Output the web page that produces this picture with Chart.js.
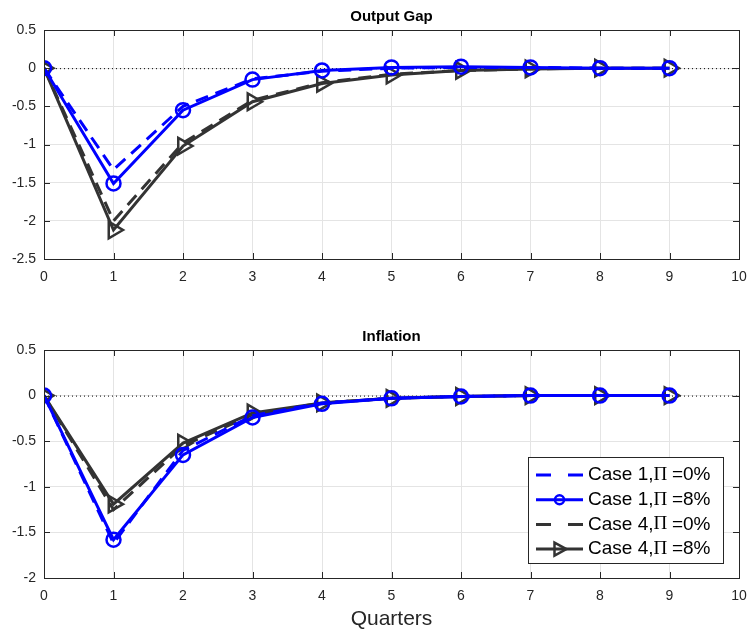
<!DOCTYPE html>
<html>
<head>
<meta charset="utf-8">
<script src="https://cdn.jsdelivr.net/npm/chart.js@4.4.0/dist/chart.umd.min.js"></script>
<style>
  html, body { margin: 0; padding: 0; background: #fff; overflow: hidden; }
  #wrap { position: relative; width: 748px; height: 636px; overflow: hidden; }
  .box { position: absolute; left: 0; width: 751px; }
</style>
</head>
<body>
<div id="wrap">
  <div class="box" style="top:0;height:300px"><canvas id="gapChart"></canvas></div>
  <div class="box" style="top:318px;height:318px"><canvas id="infChart"></canvas></div>
</div>
<script>
// Data
const quarters = [0, 1, 2, 3, 4, 5, 6, 7, 8, 9];
const xTicks = [0, 1, 2, 3, 4, 5, 6, 7, 8, 9, 10];

const gapCase1Zero  = [0, -1.33, -0.50, -0.14, -0.04, 0.00, 0.01, 0.01, 0.00, 0.00];
const gapCase1Eight = [0, -1.51, -0.55, -0.15, -0.03, 0.01, 0.02, 0.01, 0.00, 0.00];
const gapCase4Zero  = [0, -2.00, -0.98, -0.42, -0.19, -0.08, -0.03, -0.01, 0.00, 0.00];
const gapCase4Eight = [0, -2.12, -1.02, -0.44, -0.20, -0.09, -0.03, -0.01, 0.00, 0.00];

const infCase1Zero  = [0, -1.62, -0.60, -0.22, -0.08, -0.03, -0.01, 0.00, 0.00, 0.00];
const infCase1Eight = [0, -1.58, -0.65, -0.24, -0.09, -0.03, -0.01, 0.00, 0.00, 0.00];
const infCase4Zero  = [0, -1.25, -0.55, -0.21, -0.08, -0.03, -0.01, 0.00, 0.00, 0.00];
const infCase4Eight = [0, -1.19, -0.52, -0.19, -0.08, -0.03, -0.01, 0.00, 0.00, 0.00];

const seriesLabels = ['Case 1,', 'Case 1,', 'Case 4,', 'Case 4,'];
const seriesRates = ['=0%', '=8%', '=0%', '=8%'];

const BLUE = '#0000ff';
const DARK = '#333333';
const FONT = "'Liberation Sans', Arial, sans-serif";

function toPoints(values) {
    return values.map((v, i) => ({ x: quarters[i], y: v }));
}

function makeDatasets(c1z, c1e, c4z, c4e) {
    return [
        { data: toPoints(c1z), borderColor: BLUE, borderDash: [13, 8], borderWidth: 3, pointRadius: 0 },
        { data: toPoints(c1e), borderColor: BLUE, borderWidth: 3, pointStyle: 'circle', pointRadius: 7,
          pointBorderWidth: 2.5, pointBackgroundColor: 'rgba(0,0,0,0)', pointBorderColor: BLUE },
        { data: toPoints(c4z), borderColor: DARK, borderDash: [13, 8], borderWidth: 3, pointRadius: 0 },
        { data: toPoints(c4e), borderColor: DARK, borderWidth: 3, pointStyle: 'triangle', pointRotation: 90,
          pointRadius: 9.5, pointBorderWidth: 2.5, pointBackgroundColor: 'rgba(0,0,0,0)', pointBorderColor: DARK }
    ];
}

// Box, inward ticks, dotted zero line and title
const frame = {
    id: 'frame',
    beforeDatasetsDraw(chart) {
        const { ctx, chartArea: a, scales } = chart;
        const y0 = scales.y.getPixelForValue(0);
        ctx.save();
        ctx.strokeStyle = '#000';
        ctx.lineWidth = 1;
        ctx.setLineDash([1, 3]);
        ctx.beginPath();
        ctx.moveTo(a.left, y0 + 0.5);
        ctx.lineTo(a.right, y0 + 0.5);
        ctx.stroke();
        ctx.restore();
    },
    afterDraw(chart, args, opts) {
        const { ctx, chartArea: a, scales } = chart;
        ctx.save();
        ctx.strokeStyle = '#262626';
        ctx.lineWidth = 1;
        ctx.beginPath();
        scales.x.ticks.forEach(t => {
            const px = Math.round(scales.x.getPixelForValue(t.value)) + 0.5;
            ctx.moveTo(px, a.bottom); ctx.lineTo(px, a.bottom - 6);
            ctx.moveTo(px, a.top); ctx.lineTo(px, a.top + 6);
        });
        scales.y.ticks.forEach(t => {
            const py = Math.round(scales.y.getPixelForValue(t.value)) + 0.5;
            ctx.moveTo(a.left, py); ctx.lineTo(a.left + 6, py);
            ctx.moveTo(a.right, py); ctx.lineTo(a.right - 6, py);
        });
        ctx.stroke();
        ctx.strokeRect(Math.round(a.left) + 0.5, Math.round(a.top) + 0.5,
            Math.round(a.right - a.left), Math.round(a.bottom - a.top));
        ctx.fillStyle = '#000';
        ctx.font = 'bold 15px ' + FONT;
        ctx.textAlign = 'center';
        ctx.textBaseline = 'bottom';
        ctx.fillText(opts.title, (a.left + a.right) / 2, a.top - 6);
        ctx.restore();
    }
};

// MATLAB-style legend inside the axes
const boxLegend = {
    id: 'boxLegend',
    afterDraw(chart, args, opts) {
        if (!opts.show) return;
        const { ctx, chartArea: a } = chart;
        const w = 195, h = 106;
        const left = a.right - 16 - w, top = a.bottom - 15 - h;
        ctx.save();
        ctx.fillStyle = '#fff';
        ctx.fillRect(left, top, w, h);
        ctx.strokeStyle = '#262626';
        ctx.lineWidth = 1;
        ctx.strokeRect(left + 0.5, top + 0.5, w, h);
        chart.data.datasets.forEach((ds, i) => {
            const cy = top + 18 + i * 24.7;
            const x1 = left + 8, x2 = left + 55;
            ctx.strokeStyle = ds.borderColor;
            ctx.lineWidth = 3;
            ctx.setLineDash(ds.borderDash ? [15, 17] : []);
            ctx.beginPath();
            ctx.moveTo(x1, cy); ctx.lineTo(x2, cy);
            ctx.stroke();
            ctx.setLineDash([]);
            if (ds.pointRadius > 0) {
                ctx.lineWidth = 2.5;
                ctx.strokeStyle = ds.pointBorderColor;
                const mx = (x1 + x2) / 2;
                ctx.beginPath();
                if (ds.pointStyle === 'circle') {
                    ctx.arc(mx, cy, 4.5, 0, Math.PI * 2);
                } else {
                    ctx.moveTo(mx + 7, cy);
                    ctx.lineTo(mx - 5, cy - 6.5);
                    ctx.lineTo(mx - 5, cy + 6.5);
                    ctx.closePath();
                }
                ctx.stroke();
            }
            ctx.fillStyle = '#000';
            ctx.textBaseline = 'middle';
            ctx.textAlign = 'left';
            let tx = left + 60;
            ctx.font = '19px ' + FONT;
            ctx.fillText(seriesLabels[i], tx, cy);
            tx += ctx.measureText(seriesLabels[i]).width;
            ctx.font = '19px "Liberation Serif", serif';
            ctx.fillText('\u03A0', tx, cy);
            tx += ctx.measureText('\u03A0 ').width;
            ctx.font = '19px ' + FONT;
            ctx.fillText(seriesRates[i], tx, cy);
        });
        ctx.restore();
    }
};

function makeChart(id, datasets, cfg) {
    return new Chart(document.getElementById(id), {
        type: 'line',
        data: { datasets: datasets },
        plugins: [frame, boxLegend],
        options: {
            responsive: true,
            maintainAspectRatio: false,
            animation: false,
            layout: { padding: { top: cfg.padTop, right: 6, left: 0, bottom: 0 } },
            elements: { line: { tension: 0 } },
            plugins: {
                legend: { display: false },
                tooltip: { enabled: false },
                frame: { title: cfg.title },
                boxLegend: { show: cfg.legend }
            },
            scales: {
                x: {
                    type: 'linear', min: 0, max: 10,
                    afterBuildTicks: s => { s.ticks = xTicks.map(v => ({ value: v })); },
                    grid: { color: '#e4e4e4', drawTicks: false },
                    border: { display: false },
                    ticks: { color: '#262626', font: { family: FONT, size: 14 }, padding: 10, maxRotation: 0 },
                    title: {
                        display: !!cfg.xTitle, text: cfg.xTitle || '',
                        color: '#262626', font: { family: FONT, size: 21 }, padding: { top: 1 }
                    },
                    afterFit: s => { s.height = cfg.xHeight; s.paddingRight = 0; s.paddingLeft = 0; }
                },
                y: {
                    min: cfg.yMin, max: 0.5,
                    ticks: {
                        stepSize: 0.5, color: '#262626', font: { family: FONT, size: 14 }, padding: 8,
                        callback: v => String(v)
                    },
                    grid: { color: '#e4e4e4', drawTicks: false },
                    border: { display: false },
                    afterFit: s => { s.width = 44; }
                }
            }
        }
    });
}

makeChart('gapChart', makeDatasets(gapCase1Zero, gapCase1Eight, gapCase4Zero, gapCase4Eight),
    { title: 'Output Gap', padTop: 30, xHeight: 41, yMin: -2.5, legend: false });
makeChart('infChart', makeDatasets(infCase1Zero, infCase1Eight, infCase4Zero, infCase4Eight),
    { title: 'Inflation', padTop: 32, xHeight: 58, yMin: -2, legend: true, xTitle: 'Quarters' });
</script>
</body>
</html>
